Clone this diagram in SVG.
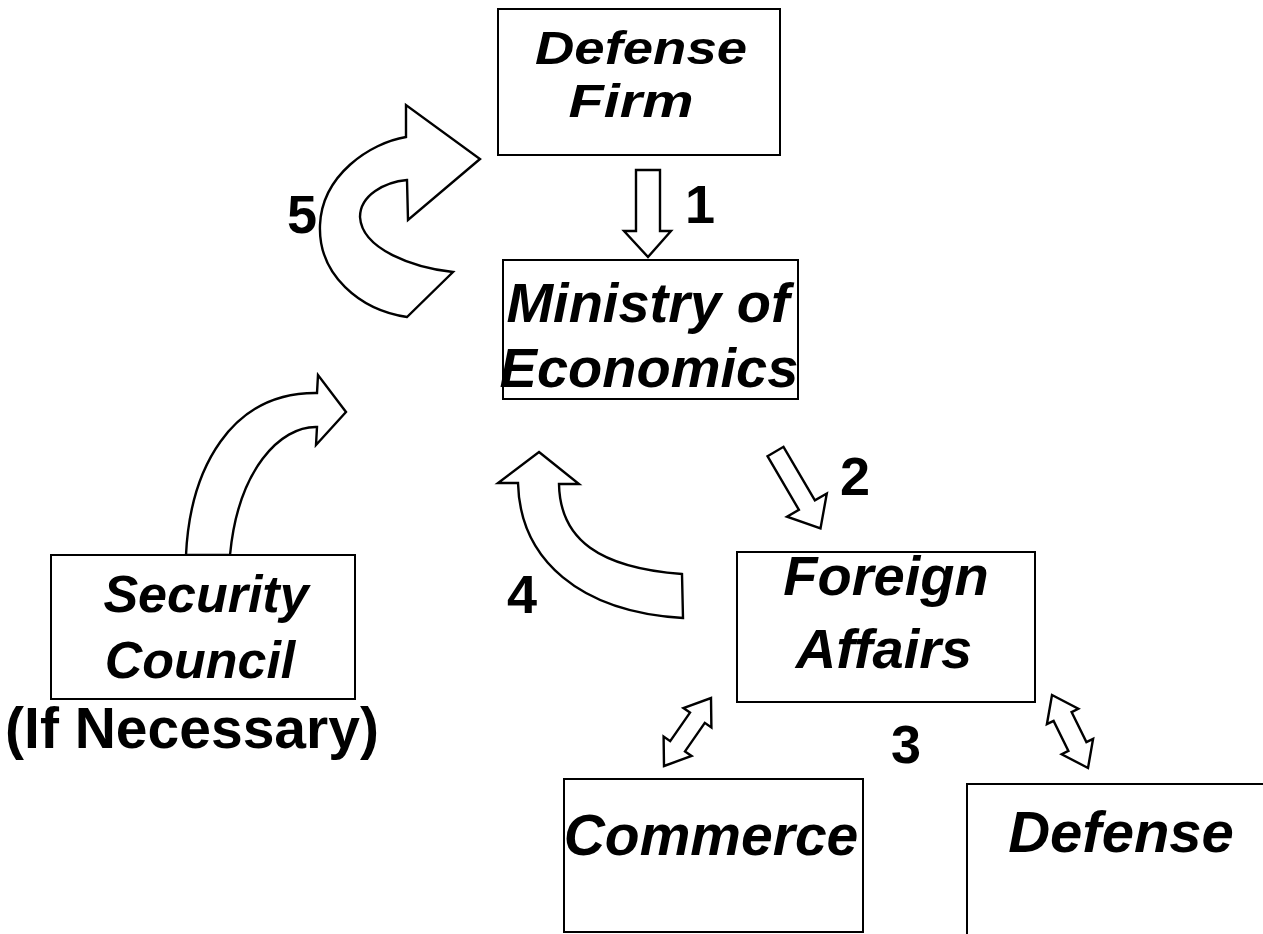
<svg xmlns="http://www.w3.org/2000/svg" width="1263" height="934" viewBox="0 0 1263 934">
<style>
.box{fill:#fff;stroke:#000;stroke-width:2}
.arr{fill:#fff;stroke:#000;stroke-width:2.4;stroke-linejoin:miter}
.t{font-family:"Liberation Sans",Arial,sans-serif;font-weight:bold;font-style:italic;fill:#000;text-anchor:middle}
.n{font-family:"Liberation Sans",Arial,sans-serif;font-weight:bold;fill:#000;text-anchor:middle}
</style>
<rect width="1263" height="934" fill="#fff"/>
<g id="connectors">
<path class="arr" d="M636,170 L660,170 L660,231 L671,231 L648,257 L624,231 L636,231 Z"/>
<path class="arr" d="M767.5,456.2 L783.5,446.8 L814.9,500.4 L826.8,493.5 L820.5,528.5 L787,516.7 L798.9,509.8 Z"/>
<path class="arr" d="M664,766 L691.6,756 L685,751.4 L704.8,722.8 L711.4,727.4 L711,698 L683.4,708 L690,712.6 L670.2,741.2 L663.6,736.6 Z"/>
<path class="arr" d="M1052,695 L1078.3,708.8 L1071.6,712.1 L1086.4,742.1 L1093.1,738.8 L1088,768 L1061.7,754.2 L1068.4,750.9 L1053.6,720.9 L1046.9,724.2 Z"/>
<path class="arr" d="M406,137 L406,105 L480,159 L408,220 L407,180 C385,182 360,195 360,217 C362,250 415,268 453,272 L407,317 C360,310 318,275 320,225 C322,175 370,143 406,137 Z"/>
<path class="arr" d="M539,452 L579,484 L559,484 C560,540 600,568 682,574 L683,618 C580,612 520,560 518,483 L498,483 Z"/>
<path class="arr" d="M346,412 L316,445 L317,427 C280,426 238,470 230,555 L186,555 C190,470 230,392 317,393 L318,375 Z"/>
<text class="n" x="700" y="223" font-size="54">1</text>
<text class="n" x="855" y="495" font-size="54">2</text>
<text class="n" x="906" y="763" font-size="54">3</text>
<text class="n" x="522" y="613" font-size="54">4</text>
<text class="n" x="302" y="233" font-size="54">5</text>
</g>
<g id="defense-firm">
<rect class="box" x="498" y="9" width="282" height="146"/>
<text class="t" x="641" y="64" font-size="47" textLength="212" lengthAdjust="spacingAndGlyphs">Defense</text>
<text class="t" x="631" y="117" font-size="47" textLength="125" lengthAdjust="spacingAndGlyphs">Firm</text>
</g>
<g id="ministry-of-economics">
<rect class="box" x="503" y="260" width="295" height="139"/>
<text class="t" x="648" y="322" font-size="56">Ministry of</text>
<text class="t" x="649" y="387" font-size="56">Economics</text>
</g>
<g id="foreign-affairs">
<rect class="box" x="737" y="552" width="298" height="150"/>
<text class="t" x="886" y="595" font-size="56">Foreign</text>
<text class="t" x="884" y="668" font-size="56">Affairs</text>
</g>
<g id="security-council">
<rect class="box" x="51" y="555" width="304" height="144"/>
<text class="t" x="206" y="612" font-size="52">Security</text>
<text class="t" x="200" y="678" font-size="52">Council</text>
<text class="n" x="192" y="748" font-size="57">(If Necessary)</text>
</g>
<g id="commerce">
<rect class="box" x="564" y="779" width="299" height="153"/>
<text class="t" x="711" y="855" font-size="57">Commerce</text>
</g>
<g id="defense">
<rect class="box" x="967" y="784" width="320" height="200"/>
<text class="t" x="1121" y="852" font-size="58">Defense</text>
</g>
</svg>
